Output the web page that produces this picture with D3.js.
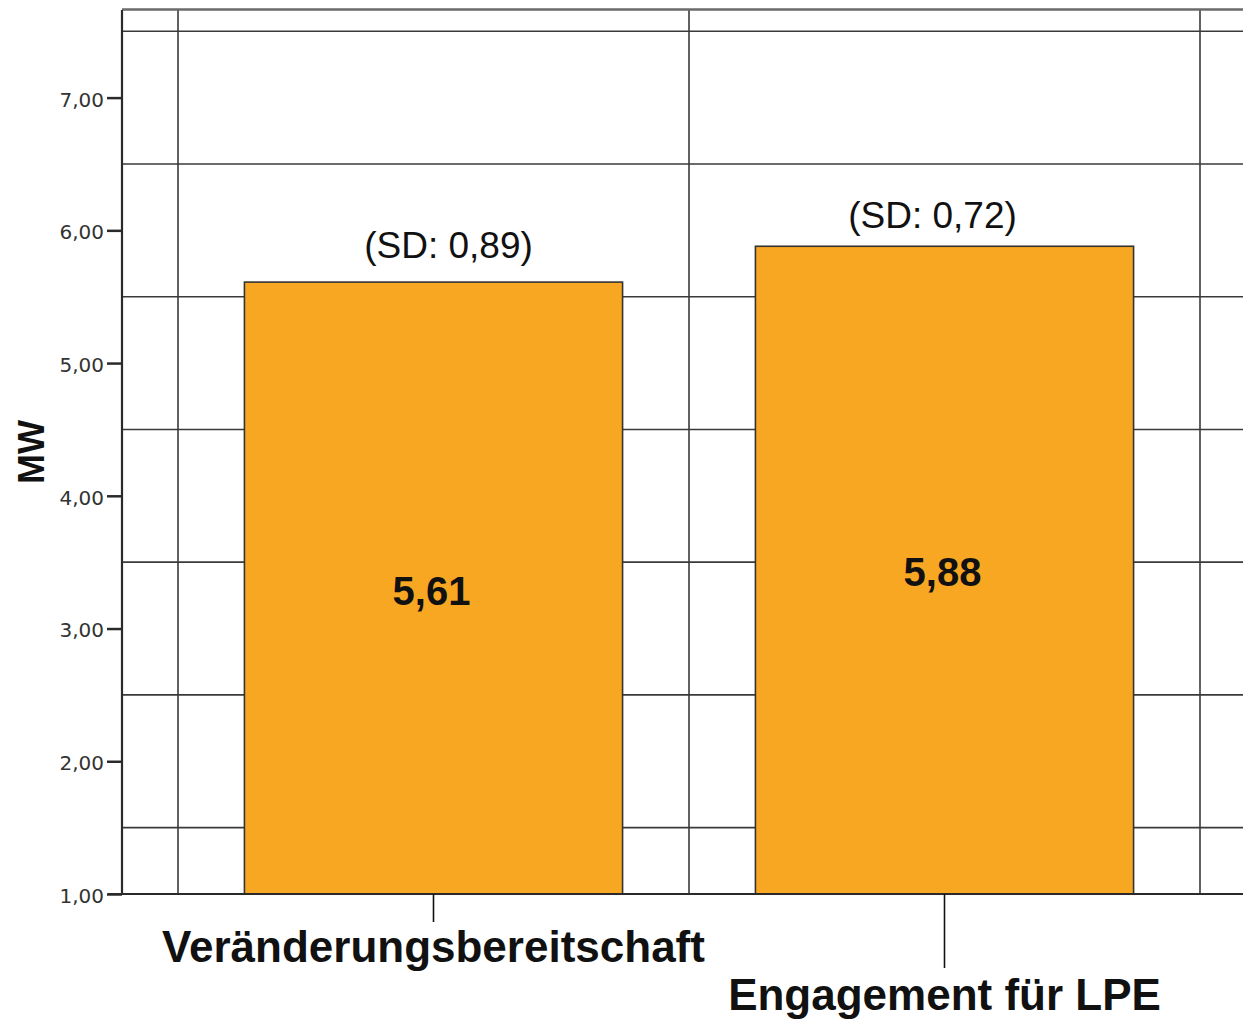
<!DOCTYPE html>
<html>
<head>
<meta charset="utf-8">
<script src="https://cdn.jsdelivr.net/npm/d3@7"></script>
<style>
  body { margin: 0; background: #fff; }
  text { font-family: "Liberation Sans", Arial, sans-serif; }
</style>
</head>
<body>
<div id="chart"></div>
<script>
const categories = ["Veränderungsbereitschaft", "Engagement für LPE"];
const means = [5.61, 5.88];
const meanLabels = ["5,61", "5,88"];
const sdLabels = ["(SD: 0,89)", "(SD: 0,72)"];
const yTicks = [1, 2, 3, 4, 5, 6, 7];
const yGrid = [1.5, 2.5, 3.5, 4.5, 5.5, 6.5, 7.5];

const width = 1243;
const height = 1019;

const svg = d3.select("#chart")
  .append("svg")
  .attr("width", width)
  .attr("height", height);

const x = d3.scaleBand(categories, [178, 1200]).padding(0);
const y = d3.scaleLinear([1, 7.66], [894, 10]);
const barW = x.bandwidth() * 0.74;
const fmt = (d) => d3.format(".2f")(d).replace(".", ",");

// horizontal grid
svg.append("g")
  .selectAll("line")
  .data(yGrid)
  .join("line")
  .attr("x1", 122)
  .attr("x2", width)
  .attr("y1", (d) => y(d))
  .attr("y2", (d) => y(d))
  .attr("stroke", "#3a3a3a")
  .attr("stroke-width", 1.6);

// vertical grid at band edges
const edges = categories.map((c) => x(c)).concat([x(categories[1]) + x.bandwidth()]);
svg.append("g")
  .selectAll("line")
  .data(edges)
  .join("line")
  .attr("x1", (d) => d)
  .attr("x2", (d) => d)
  .attr("y1", 10)
  .attr("y2", 894)
  .attr("stroke", "#3a3a3a")
  .attr("stroke-width", 1.6);

// top frame
svg.append("line")
  .attr("x1", 122).attr("x2", width)
  .attr("y1", 9.5).attr("y2", 9.5)
  .attr("stroke", "#6a6a6a")
  .attr("stroke-width", 2.5);

// bars
svg.append("g")
  .selectAll("rect")
  .data(categories)
  .join("rect")
  .attr("x", (d) => x(d) + x.bandwidth() / 2 - barW / 2)
  .attr("y", (d, i) => y(means[i]))
  .attr("width", barW)
  .attr("height", (d, i) => y(1) - y(means[i]))
  .attr("fill", "#f8a722")
  .attr("stroke", "#333")
  .attr("stroke-width", 1.6);

// y axis
svg.append("g")
  .attr("transform", "translate(122,0)")
  .call(d3.axisLeft(y).tickValues(yTicks).tickFormat(fmt).tickSize(15).tickPadding(3))
  .call((g) => g.select(".domain")
    .attr("d", `M0,10V894`)
    .attr("stroke", "#2a2a2a")
    .attr("stroke-width", 2.2))
  .call((g) => g.selectAll(".tick line").attr("stroke", "#2a2a2a").attr("stroke-width", 2.5))
  .call((g) => g.selectAll(".tick text")
    .style("font-family", "'DejaVu Sans', sans-serif")
    .style("font-size", "20px")
    .attr("fill", "#333")
    .attr("dy", "0.42em"));

// x axis
svg.append("line")
  .attr("x1", 108).attr("x2", width)
  .attr("y1", 894).attr("y2", 894)
  .attr("stroke", "#2a2a2a")
  .attr("stroke-width", 2.2);

const tickLen = [28, 74];
const labelY = [962, 1010];
svg.append("g")
  .selectAll("line")
  .data(categories)
  .join("line")
  .attr("x1", (d) => x(d) + x.bandwidth() / 2)
  .attr("x2", (d) => x(d) + x.bandwidth() / 2)
  .attr("y1", 894)
  .attr("y2", (d, i) => 894 + tickLen[i])
  .attr("stroke", "#111")
  .attr("stroke-width", 1.6);

svg.append("g")
  .selectAll("text")
  .data(categories)
  .join("text")
  .attr("x", (d) => x(d) + x.bandwidth() / 2)
  .attr("y", (d, i) => labelY[i])
  .attr("text-anchor", "middle")
  .attr("font-size", 44)
  .attr("font-weight", "bold")
  .attr("fill", "#111")
  .text((d) => d);

// value labels inside bars
const valueY = [605, 586];
svg.append("g")
  .selectAll("text")
  .data(categories)
  .join("text")
  .attr("x", (d) => x(d) + x.bandwidth() / 2 - 2)
  .attr("y", (d, i) => valueY[i])
  .attr("text-anchor", "middle")
  .attr("font-size", 40)
  .attr("font-weight", "bold")
  .attr("fill", "#111")
  .text((d, i) => meanLabels[i]);

// SD labels
const sdDx = [15, -12];
const sdDy = [-24, -18];
svg.append("g")
  .selectAll("text")
  .data(categories)
  .join("text")
  .attr("x", (d, i) => x(d) + x.bandwidth() / 2 + sdDx[i])
  .attr("y", (d, i) => y(means[i]) + sdDy[i])
  .attr("text-anchor", "middle")
  .attr("font-size", 37)
  .attr("fill", "#111")
  .text((d, i) => sdLabels[i]);

// y axis title
svg.append("text")
  .attr("transform", "translate(44,452) rotate(-90)")
  .attr("text-anchor", "middle")
  .attr("font-size", 36)
  .attr("font-weight", "bold")
  .attr("fill", "#111")
  .text("MW");
</script>
</body>
</html>
